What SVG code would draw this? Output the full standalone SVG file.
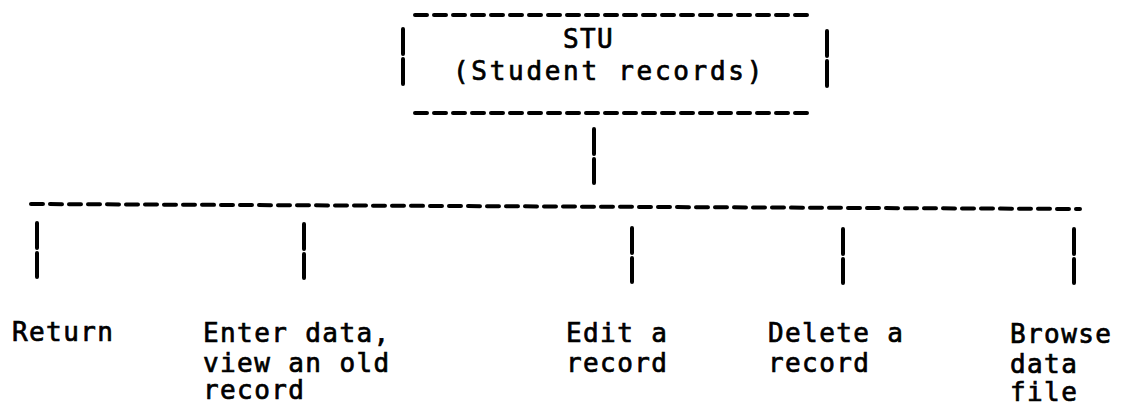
<svg xmlns="http://www.w3.org/2000/svg" width="1127" height="412" viewBox="0 0 1127 412">
  <style>
    .bg { fill: #ffffff; }
    .hdash { fill: none; stroke: #000; stroke-width: 4; stroke-dasharray: 12 7; stroke-linecap: round; }
    .vdash { fill: none; stroke: #000; stroke-width: 4; stroke-dasharray: 25 5; stroke-linecap: round; }
    .lbl { font-family: "DejaVu Sans Mono", "Liberation Mono", monospace; font-size: 26px; fill: #000; stroke: #000; stroke-width: 0.7; letter-spacing: 1.4px; }
    .wide { letter-spacing: 2.7px; }
  </style>
  <rect class="bg" x="0" y="0" width="1127" height="412"/>

  <!-- Root menu box drawn with typed dashes and bars -->
  <g id="node-stu">
    <line class="hdash" x1="415" y1="15" x2="812" y2="15"/>
    <line class="hdash" x1="415" y1="113" x2="812" y2="113"/>
    <line class="vdash" x1="403" y1="29" x2="403" y2="85"/>
    <line class="vdash" x1="827" y1="31" x2="827" y2="87"/>
    <text class="lbl" x="563" y="48">STU</text>
    <text class="lbl wide" x="453" y="80">(Student records)</text>
  </g>

  <!-- Connectors: stem, bus and drops -->
  <g id="connectors">
    <line class="vdash" x1="594" y1="129" x2="594" y2="183"/>
    <line class="hdash" x1="31" y1="204" x2="1080" y2="209"/>
    <line class="vdash" x1="37" y1="223" x2="37" y2="277"/>
    <line class="vdash" x1="304" y1="224" x2="304" y2="278"/>
    <line class="vdash" x1="632" y1="228" x2="632" y2="282"/>
    <line class="vdash" x1="843" y1="229" x2="843" y2="283"/>
    <line class="vdash" x1="1074" y1="229" x2="1074" y2="283"/>
  </g>

  <g id="node-return">
    <text class="lbl" x="12" y="341">Return</text>
  </g>
  <g id="node-enter">
    <text class="lbl" x="203" y="342">Enter data,</text>
    <text class="lbl" x="203" y="372">view an old</text>
    <text class="lbl" x="203" y="399">record</text>
  </g>
  <g id="node-edit">
    <text class="lbl" x="566" y="342">Edit a</text>
    <text class="lbl" x="566" y="372">record</text>
  </g>
  <g id="node-delete">
    <text class="lbl" x="768" y="342">Delete a</text>
    <text class="lbl" x="768" y="372">record</text>
  </g>
  <g id="node-browse">
    <text class="lbl" x="1010" y="343">Browse</text>
    <text class="lbl" x="1010" y="373">data</text>
    <text class="lbl" x="1010" y="401">file</text>
  </g>
</svg>
